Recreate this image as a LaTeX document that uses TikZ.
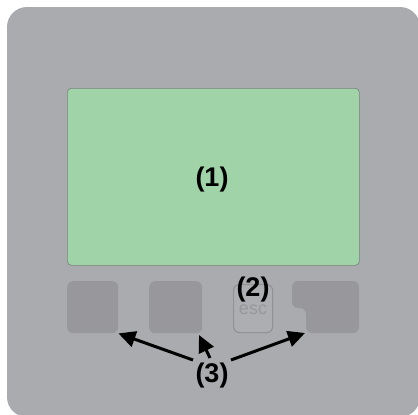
\documentclass[tikz,border=0pt]{standalone}
\usepackage{fontspec}
\setmainfont{Liberation Sans}
\usetikzlibrary{arrows.meta}
\definecolor{panel}{RGB}{169,171,175}
\definecolor{btn}{RGB}{152,152,156}
\definecolor{screen}{RGB}{160,211,168}
\definecolor{screenline}{RGB}{120,130,122}
\definecolor{esctxt}{RGB}{150,152,156}
\definecolor{escfill}{RGB}{172,174,178}
\definecolor{escline}{RGB}{146,146,150}
\begin{document}
\begin{tikzpicture}[x=1pt,y=-1pt,
  btnbox/.style={fill=btn,rounded corners=6pt},
  lbl/.style={font=\fontsize{27}{27}\selectfont\bfseries,inner sep=0pt},
  pointer/.style={line width=3pt,-{Triangle[length=17pt,width=16pt]}}]
\useasboundingbox (0,0) rectangle (418,415);
\fill[white] (0,0) rectangle (418,415);
\fill[panel,rounded corners=20pt] (7,7) rectangle (420,417);
% screen
\node[draw=screenline,line width=0.6pt,fill=screen,rounded corners=4pt,
  minimum width=292pt,minimum height=177pt,anchor=north west] (screen) at (67,88) {};
\node[lbl] (l1) at (212,180) {(1)};
% buttons
\node[btnbox,minimum width=51pt,minimum height=52pt,anchor=north west] (b1) at (67,281) {};
\node[btnbox,minimum width=53pt,minimum height=52pt,anchor=north west] (b2) at (149,281) {};
\node[draw=escline,line width=1.2pt,fill=escfill,rounded corners=6pt,
  minimum width=39pt,minimum height=48pt,anchor=north west] (esc) at (233,284) {};
\node[font=\fontsize{18}{18}\selectfont,text=esctxt,inner sep=0pt] (esct) at (253,310) {esc};
\node[lbl] (l2) at (253,290) {(2)};
% notched button
\fill[btn,rounded corners=6pt] (292,281) -- (359,281) -- (359,333) -- (306,333) -- (306,308) -- (292,308) -- cycle;
\coordinate (b4) at (305,333);
\node[lbl] (l3) at (212,376) {(3)};
\draw[pointer] (193,360) -- (b1.south east);
\draw[pointer] (210,358) -- (199,335);
\draw[pointer] (231,360) -- (b4);
\end{tikzpicture}
\end{document}
